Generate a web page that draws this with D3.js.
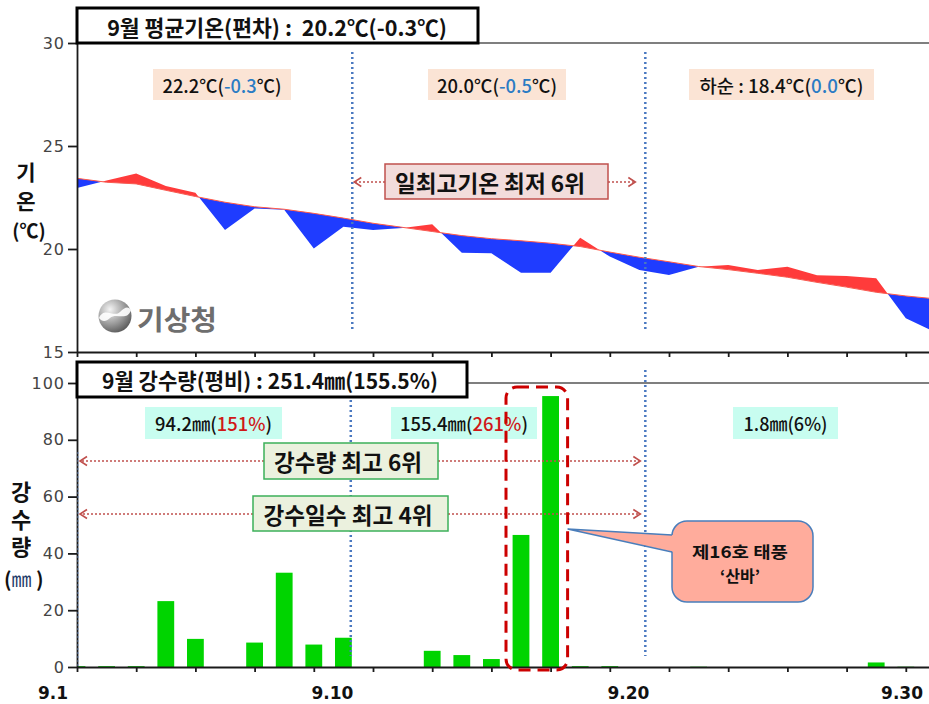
<!DOCTYPE html>
<html><head><meta charset="utf-8">
<script src="https://cdn.jsdelivr.net/npm/d3@7/dist/d3.min.js"></script>
<style>body{margin:0;background:#fff} svg{display:block} text{white-space:pre}</style>
</head><body>
<svg id="c" width="929" height="704"></svg>
<script>
// ---------- data ----------
const days = d3.range(1, 31);
const tempActual = [22.96, 23.33, 23.67, 23.06, 22.73, 20.92, 21.97, 21.90, 20.03, 21.08,
                    20.92, 21.02, 21.20, 19.82, 19.79, 18.85, 18.85, 20.55, 19.63, 18.98,
                    18.74, 19.14, 19.22, 18.98, 19.14, 18.72, 18.69, 18.58, 16.64, 15.95];
const tempNormal = [23.43, 23.24, 23.16, 22.85, 22.55, 22.27, 22.05, 21.93, 21.73, 21.50,
                    21.25, 21.05, 20.85, 20.65, 20.50, 20.40, 20.28, 20.12, 19.85, 19.60,
                    19.38, 19.15, 19.00, 18.82, 18.63, 18.38, 18.15, 17.90, 17.72, 17.58];
const rain = [0.3, 0.3, 0.3, 23.2, 9.9, 0, 8.6, 33.2, 7.9, 10.3,
              0, 0, 5.7, 4.2, 2.8, 46.5, 95.4, 0.3, 0.3, 0,
              0, 0.1, 0, 0, 0, 0, 0, 1.6, 0.1, 0];
const tempTicks = [15, 20, 25, 30];
const rainTicks = [0, 20, 40, 60, 80, 100];
const axisTickDays = d3.range(1, 30, 2);
const dateTickDays = [1, 10, 20, 30];
const dateTickLabels = ["9.1", "9.10", "9.20", "9.30"];
const dekadBreaks = [10.3, 20.2];
const tempTitle = "9월 평균기온(편차) :  20.2℃(-0.3℃)";
const rainTitle = "9월 강수량(평비) : 251.4㎜(155.5%)";
const tempDekads = [["", "22.2℃(", "-0.3", "℃)"], ["", "20.0℃(", "-0.5", "℃)"], ["하순 : ", "18.4℃(", "0.0", "℃)"]];
const rainDekads = [["94.2㎜(", "151%", ")"], ["155.4㎜(", "261%", ")"], ["1.8㎜(", "6%", ")"]];
const tempRank = "일최고기온 최저 6위";
const rainRanks = ["강수량 최고 6위", "강수일수 최고 4위"];
const typhoonLines = ["제16호 태풍", "‘산바’"];
const tempAxisTitle = ["기온", "(℃)"];
const rainAxisTitle = ["강수량", "㎜"];

// ---------- setup ----------
const W = 929, H = 704;
const svg = d3.select("#c");
const KR = "'Noto Sans CJK KR','Noto Sans',sans-serif";
const NUM = "'DejaVu Sans',Verdana,sans-serif";
const defs = svg.append("defs");

const x = d3.scaleLinear().domain([1, 30]).range([77, 935.4]);
const yT = d3.scaleLinear().domain([15, 30]).range([352, 43]);
const yR = d3.scaleLinear().domain([0, 100]).range([667, 383]);
const X0 = 77;

function fit(t, w) {
  const len = t.node().getComputedTextLength();
  const fs = parseFloat(t.attr("font-size"));
  if (len > 0) t.attr("font-size", fs * w / len);
  return t;
}
function squeeze(t, w) {
  t.attr("textLength", w).attr("lengthAdjust", "spacingAndGlyphs");
  return t;
}
function box(x0, y0, x1, y1, fill, stroke, sw) {
  return svg.append("rect").attr("x", x0).attr("y", y0).attr("width", x1 - x0).attr("height", y1 - y0)
    .attr("fill", fill).attr("stroke", stroke || "none").attr("stroke-width", sw || 0);
}
function label(cx, cy, txt, size, weight, w, color) {
  const t = svg.append("text").attr("x", cx).attr("y", cy).attr("text-anchor", "middle")
    .attr("dominant-baseline", "central").attr("font-family", KR).attr("font-size", size)
    .attr("font-weight", weight).attr("fill", color || "#111").text(txt);
  if (w) fit(t, w);
  return t;
}
function vlabel(cx, top, txt, size, spacing) {
  return svg.append("text").attr("x", cx).attr("y", top).style("writing-mode", "vertical-rl")
    .attr("font-family", KR).attr("font-size", size).attr("font-weight", 700).attr("fill", "#111")
    .attr("letter-spacing", spacing).text(txt);
}

// clip paths
defs.append("clipPath").attr("id", "clipTop").append("rect").attr("x", X0).attr("y", 43).attr("width", W - X0).attr("height", 309);
defs.append("clipPath").attr("id", "clipBot").append("rect").attr("x", X0).attr("y", 370).attr("width", W - X0).attr("height", 297);
defs.append("clipPath").attr("id", "above").append("path")
  .attr("d", d3.area().x((d, i) => x(days[i])).y0(d => yT(d)).y1(0)(tempNormal));
defs.append("clipPath").attr("id", "below").append("path")
  .attr("d", d3.area().x((d, i) => x(days[i])).y0(d => yT(d)).y1(H)(tempNormal));

// ---------- top panel ----------
const band = d3.area().x((d, i) => x(days[i])).y0((d, i) => yT(tempNormal[i])).y1(d => yT(d));
const gTop = svg.append("g").attr("clip-path", "url(#clipTop)");
gTop.append("g").attr("clip-path", "url(#above)").append("path").attr("d", band(tempActual)).attr("fill", "#ff3b3b");
gTop.append("g").attr("clip-path", "url(#below)").append("path").attr("d", band(tempActual)).attr("fill", "#1f3cff");
gTop.append("path").attr("d", d3.line().x((d, i) => x(days[i])).y(d => yT(d))(tempNormal))
  .attr("fill", "none").attr("stroke", "#ff5a4a").attr("stroke-width", 1);

svg.append("line").attr("x1", X0).attr("x2", W).attr("y1", yT(30)).attr("y2", yT(30)).attr("stroke", "#555").attr("stroke-width", 1.6);

function styleAxis(g) {
  g.selectAll("path,line").attr("stroke", "#1a1a1a").attr("stroke-width", 1.8);
  g.selectAll("text").attr("font-family", NUM).attr("font-size", 16).attr("fill", "#444").attr("letter-spacing", 1);
}
svg.append("g").attr("transform", `translate(${X0},0)`)
  .call(d3.axisLeft(yT).tickValues(tempTicks).tickSize(9).tickSizeOuter(0).tickPadding(3)).call(styleAxis);
svg.append("g").attr("transform", `translate(0,${yT(15)})`)
  .call(d3.axisBottom(x).tickValues(axisTickDays).tickSize(5).tickSizeOuter(0).tickFormat("")).call(styleAxis);

dekadBreaks.forEach(d => {
  svg.append("line").attr("x1", x(d)).attr("x2", x(d)).attr("y1", 52).attr("y2", 332)
    .attr("stroke", "#4a78c0").attr("stroke-width", 2.5).attr("stroke-dasharray", "2,3");
});

box(X0, 8, 478, 43, "#fff", "#000", 3);
label(277, 26, tempTitle, 19, 700, 340);

const tempBoxX = [[153, 291], [428, 566], [689, 874]];
tempDekads.forEach((parts, i) => {
  const [a, b] = tempBoxX[i];
  const w = [119, 120, 164][i];
  box(a, 69, b, 100, "#fbe4d5");
  const t = svg.append("text").attr("x", (a + b) / 2 - w / 2).attr("y", 85)
    .attr("dominant-baseline", "central").attr("font-family", KR).attr("font-size", 18.5).attr("font-weight", 500);
  t.append("tspan").attr("fill", "#111").text(parts[0] + parts[1]);
  t.append("tspan").attr("fill", "#2b7cc4").text(parts[2]);
  t.append("tspan").attr("fill", "#111").text(parts[3]);
  squeeze(t, w);
});

function arrow(x1, x2, y) {
  svg.append("line").attr("x1", x1).attr("x2", x2).attr("y1", y).attr("y2", y)
    .attr("stroke", "#c0504d").attr("stroke-width", 1.6).attr("stroke-dasharray", "2,2");
  const dir = x2 > x1 ? 1 : -1;
  svg.append("path").attr("d", `M${x2 - dir * 7},${y - 4.5}L${x2},${y}L${x2 - dir * 7},${y + 4.5}`)
    .attr("fill", "none").attr("stroke", "#c0504d").attr("stroke-width", 1.6);
}

arrow(385, x(dekadBreaks[0]) + 2, 182);
arrow(608, x(dekadBreaks[1]) - 10, 182);
box(385, 164, 608, 199, "#f2dcdb", "#c0504d", 1.5);
label(490, 182, tempRank, 20, 700, 190);

// y-axis title top
vlabel(26, 162, tempAxisTitle[0], 21, 8);
label(29, 229, tempAxisTitle[1], 19, 700);

// logo
const rg = defs.append("radialGradient").attr("id", "lg").attr("cx", "35%").attr("cy", "30%").attr("r", "75%");
rg.append("stop").attr("offset", "0%").attr("stop-color", "#f4f4f4");
rg.append("stop").attr("offset", "60%").attr("stop-color", "#9a9a9a");
rg.append("stop").attr("offset", "100%").attr("stop-color", "#5a5a5a");
svg.append("circle").attr("cx", 115).attr("cy", 316).attr("r", 16.5).attr("fill", "url(#lg)");
svg.append("path").attr("d", "M99,318 C104,306 114,318 120,312 C125,307 128,306 131,310 C127,322 116,312 110,318 C106,322 102,322 99,318Z")
  .attr("fill", "#ffffff").attr("opacity", 0.9);
const lt = svg.append("text").attr("x", 137).attr("y", 318).attr("dominant-baseline", "central")
  .attr("font-family", KR).attr("font-size", 27).attr("font-weight", 700).attr("fill", "#6e6e6e").text("기상청");
squeeze(lt, 80);

// ---------- bottom panel ----------
const gBot = svg.append("g").attr("clip-path", "url(#clipBot)");
gBot.selectAll("rect.bar").data(rain).join("rect").attr("class", "bar")
  .attr("x", (d, i) => x(days[i]) - 8.4).attr("width", 16.8)
  .attr("y", d => yR(d)).attr("height", d => yR(0) - yR(d)).attr("fill", "#00d400");

svg.append("line").attr("x1", X0).attr("x2", W).attr("y1", yR(100)).attr("y2", yR(100)).attr("stroke", "#555").attr("stroke-width", 1.6);
svg.append("g").attr("transform", `translate(${X0},0)`)
  .call(d3.axisLeft(yR).tickValues(rainTicks).tickSize(9).tickSizeOuter(0).tickPadding(3)).call(styleAxis);
svg.append("g").attr("transform", `translate(0,${yR(0)})`)
  .call(d3.axisBottom(x).tickValues(axisTickDays).tickSize(5).tickSizeOuter(0).tickFormat("")).call(styleAxis);

svg.append("line").attr("x1", X0 + 1).attr("x2", X0 + 1).attr("y1", 452).attr("y2", 667)
  .attr("stroke", "#6d8fc8").attr("stroke-width", 1.2).attr("stroke-dasharray", "2,2").attr("opacity", 0.7);

dekadBreaks.forEach((d, i) => {
  const xx = x(d) - (i === 0 ? 1.5 : 0);
  svg.append("line").attr("x1", xx).attr("x2", xx).attr("y1", 370).attr("y2", 656)
    .attr("stroke", "#4a78c0").attr("stroke-width", 2.5).attr("stroke-dasharray", "2,3");
});

dateTickDays.forEach((d, i) => {
  const last = i === dateTickDays.length - 1, first = i === 0;
  svg.append("text")
    .attr("x", first ? x(d) - 9 : last ? W - 6 : x(d) - 11)
    .attr("y", 699).attr("text-anchor", first || last ? "end" : "middle")
    .attr("font-family", NUM).attr("font-size", 17).attr("font-weight", 700).attr("fill", "#111")
    .text(dateTickLabels[i]);
});

box(X0, 362, 467, 397, "#fff", "#000", 3);
label(270, 380, rainTitle, 19, 700, 336);

const rainBoxX = [[145, 282], [391, 537], [733, 838]];
rainDekads.forEach((parts, i) => {
  const [a, b] = rainBoxX[i];
  const w = [117, 128, 84][i];
  box(a, 407, b, 439, "#c8fdf0");
  const t = svg.append("text").attr("x", (a + b) / 2 - w / 2).attr("y", 423)
    .attr("dominant-baseline", "central").attr("font-family", KR).attr("font-size", 18.5).attr("font-weight", 500);
  t.append("tspan").attr("fill", "#111").text(parts[0]);
  t.append("tspan").attr("fill", i < 2 ? "#d01818" : "#111").text(parts[1]);
  t.append("tspan").attr("fill", "#111").text(parts[2]);
  squeeze(t, w);
});

arrow(264, X0 + 3, 461);
arrow(438, x(dekadBreaks[1]) - 5, 461);
arrow(253, X0 + 3, 514);
arrow(448, x(dekadBreaks[1]) - 5, 514);
box(264, 443, 438, 479, "#ebf1de", "#3cb05a", 1.5);
label(348, 461, rainRanks[0], 20, 700, 148);
box(253, 496, 448, 531, "#ebf1de", "#3cb05a", 1.5);
label(348, 514, rainRanks[1], 20, 700, 169);

svg.append("rect").attr("x", x(16) - 15).attr("y", 387).attr("width", x(17) - x(16) + 32).attr("height", 283)
  .attr("rx", 11).attr("fill", "none").attr("stroke", "#cc0000").attr("stroke-width", 3).attr("stroke-dasharray", "12,7");

svg.append("rect").attr("x", 672).attr("y", 521).attr("width", 141).attr("height", 81).attr("rx", 15)
  .attr("fill", "#ffac9c").attr("stroke", "#4a7ebb").attr("stroke-width", 1.5);
const tip = [x(17) + 17, 529];
svg.append("path").attr("d", `M${tip[0]},${tip[1]}L674,535L674,552Z`).attr("fill", "#ffac9c");
svg.append("path").attr("d", `M672,535L${tip[0]},${tip[1]}L672,552`).attr("fill", "none").attr("stroke", "#4a7ebb").attr("stroke-width", 1.5);
squeeze(label(740, 551, typhoonLines[0], 16, 700), 96);
squeeze(label(740, 574.5, typhoonLines[1], 16, 700), 40);

// y-axis title bottom
vlabel(21, 481, rainAxisTitle[0], 22, 5.5);
const ut = svg.append("text").attr("x", 4).attr("y", 578).attr("dominant-baseline", "central")
  .attr("font-family", KR).attr("font-size", 20).attr("font-weight", 700).attr("fill", "#111");
ut.append("tspan").text("(");
ut.append("tspan").attr("fill", "#1f3a68").attr("font-weight", 400).text(rainAxisTitle[1]);
ut.append("tspan").text(" )");
</script>
</body></html>
